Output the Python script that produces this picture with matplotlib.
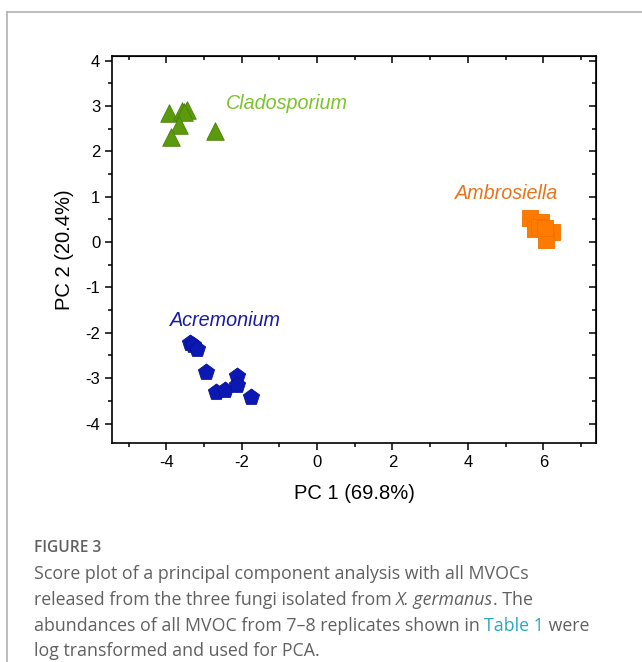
import numpy as np
import matplotlib.pyplot as plt
from matplotlib.lines import Line2D
from matplotlib.ticker import MultipleLocator

plt.rcParams['font.family'] = ['Liberation Sans', 'DejaVu Sans']
plt.rcParams['axes.unicode_minus'] = False

# PCA scores
clado_x = [-3.92, -3.58, -3.45, -3.52, -3.66, -3.87, -2.72]
clado_y = [2.85, 2.88, 2.92, 2.86, 2.58, 2.32, 2.44]

acre_x = [-3.37, -3.30, -3.19, -2.95, -2.68, -2.44, -2.12, -2.12, -1.76]
acre_y = [-2.23, -2.28, -2.36, -2.87, -3.30, -3.26, -2.95, -3.15, -3.42]

ambro_x = [5.66, 5.93, 5.77, 5.88, 6.24, 6.08, 6.05]
ambro_y = [0.52, 0.44, 0.29, 0.33, 0.21, 0.04, 0.30]

x_label = 'PC 1 (69.8%)'
y_label = 'PC 2 (20.4%)'

fig = plt.figure(figsize=(6.42, 6.62), dpi=100)
ax = fig.add_axes([0.1745, 0.3308, 0.7539, 0.5846])

ax.scatter(clado_x, clado_y, marker='^', s=160, color='#5a9a0c', edgecolor='#4a8206', linewidth=0.6, zorder=3)
ax.scatter(acre_x, acre_y, marker='p', s=150, color='#0c18b4', edgecolor='#081290', linewidth=0.6, zorder=3)
ax.scatter(ambro_x, ambro_y, marker='s', s=130, color='#ff7b00', edgecolor='#f07000', linewidth=0.6, zorder=3)

ax.text(-2.41, 3.06, 'Cladosporium', color='#7cc42c', style='italic', fontsize=14.2, va='center')
ax.text(-3.90, -1.72, 'Acremonium', color='#1a1aa8', style='italic', fontsize=14.2, va='center')
ax.text(3.66, 1.08, 'Ambrosiella', color='#e8731c', style='italic', fontsize=14.2, va='center')

ax.set_xlim(-5.44, 7.40)
ax.set_ylim(-4.43, 4.10)
ax.xaxis.set_major_locator(MultipleLocator(2))
ax.xaxis.set_minor_locator(MultipleLocator(1))
ax.yaxis.set_major_locator(MultipleLocator(1))
ax.yaxis.set_minor_locator(MultipleLocator(0.5))
ax.tick_params(which='major', direction='out', length=5, width=1.1, labelsize=12)
ax.tick_params(which='minor', direction='out', length=3, width=1.1)

for sp in ax.spines.values():
    sp.set_linewidth(1.2)

# top and right axes with inward ticks, no labels
top = ax.secondary_xaxis('top')
top.xaxis.set_major_locator(MultipleLocator(2))
top.xaxis.set_minor_locator(MultipleLocator(1))
top.tick_params(which='major', direction='in', length=5, width=1.1, labeltop=False)
top.tick_params(which='minor', direction='in', length=3, width=1.1)
right = ax.secondary_yaxis('right')
right.yaxis.set_major_locator(MultipleLocator(1))
right.yaxis.set_minor_locator(MultipleLocator(0.5))
right.tick_params(which='major', direction='in', length=5, width=1.1, labelright=False)
right.tick_params(which='minor', direction='in', length=3, width=1.1)

ax.set_xlabel(x_label, fontsize=14.5, labelpad=10)
ax.set_ylabel(y_label, fontsize=14.5, labelpad=8)

# panel frame
fig.add_artist(Line2D([7 / 642, 7 / 642], [0, 1 - 12 / 662], color='#b0b0b0', lw=1.2))
fig.add_artist(Line2D([7 / 642, 1], [1 - 12 / 662, 1 - 12 / 662], color='#b0b0b0', lw=1.2))

# caption
cap_font = ['Open Sans', 'DejaVu Sans']
cap_gray = '#606060'
cap_size = 12.8


def caption_line(y_px, pieces):
    x = 34 / 642
    for txt, color, style in pieces:
        t = fig.text(x, 1 - y_px / 662, txt, fontsize=cap_size, color=color, style=style,
                     family=cap_font, va='center')
        fig.canvas.draw()
        x = t.get_window_extent().x1 / fig.bbox.width


fig.text(34 / 642, 1 - 548 / 662, 'FIGURE 3', fontsize=11.2, color=cap_gray, family=cap_font,
         fontweight='semibold', va='center')
caption_line(574, [('Score plot of a principal component analysis with all MVOCs', cap_gray, 'normal')])
caption_line(600, [('released from the three fungi isolated from ', cap_gray, 'normal'),
                   ('X. germanus', cap_gray, 'italic'),
                   ('. The', cap_gray, 'normal')])
caption_line(626, [('abundances of all MVOC from 7\u20138 replicates shown in ', cap_gray, 'normal'),
                   ('Table 1', '#2aa8c0', 'normal'),
                   (' were', cap_gray, 'normal')])
caption_line(651, [('log transformed and used for PCA.', cap_gray, 'normal')])

fig.savefig('out.png', dpi=100)
